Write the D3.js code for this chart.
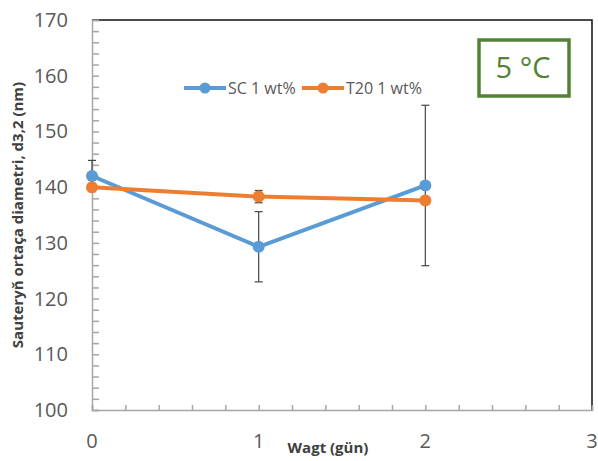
<!DOCTYPE html>
<html>
<head>
<meta charset="utf-8">
<script src="https://cdn.jsdelivr.net/npm/d3@7"></script>
<style>
  body { margin: 0; background: #fff; }
  text { font-family: "Open Sans", "Liberation Sans", sans-serif; }
</style>
</head>
<body>
<div id="chart"></div>
<script>
const days = [0, 1, 2];
const scValues = [142.0, 129.3, 140.3];
const scErrors = [2.8, 6.3, 14.4];
const t20Values = [140.0, 138.3, 137.6];
const t20Errors = [0, 1.1, 0];
const seriesNames = ["SC 1 wt%", "T20 1 wt%"];
const seriesColors = ["#5B9BD5", "#ED7D31"];
const yTicks = [100, 110, 120, 130, 140, 150, 160, 170];
const xTicks = [0, 1, 2, 3];

const width = 598, height = 461;
const marginLeft = 92, marginRight = 6, marginTop = 20, marginBottom = 51;

const x = d3.scaleLinear([0, 3], [marginLeft, width - marginRight]);
const y = d3.scaleLinear([100, 170], [height - marginBottom, marginTop]);

const svg = d3.select("#chart").append("svg")
    .attr("width", width)
    .attr("height", height)
    .attr("viewBox", [0, 0, width, height]);

// frame (top and right in black)
svg.append("path")
    .attr("d", `M${x(0)},${y(170)}H${x(3)}V${y(100)}`)
    .attr("fill", "none")
    .attr("stroke", "#111")
    .attr("stroke-width", 1.5);

// y axis with minor ticks inside
svg.append("g")
    .attr("transform", `translate(${marginLeft},0)`)
    .call(d3.axisRight(y).tickValues(d3.range(100, 170.1, 2)).tickSize(7).tickFormat(""))
    .call(g => g.selectAll("line, path").attr("stroke", "#a6a6a6").attr("stroke-width", 1.5));

svg.append("g")
    .selectAll("text")
    .data(yTicks)
    .join("text")
      .attr("x", 68)
      .attr("y", d => y(d))
      .attr("dy", "0.35em")
      .attr("text-anchor", "end")
      .attr("font-size", 20)
      .attr("fill", "#595959")
      .text(d => d);

// x axis with minor ticks upward
svg.append("g")
    .attr("transform", `translate(0,${height - marginBottom})`)
    .call(d3.axisTop(x).tickValues(d3.range(0, 3.01, 0.2)).tickSize(5).tickFormat(""))
    .call(g => g.selectAll("line, path").attr("stroke", "#a6a6a6").attr("stroke-width", 1.5));

svg.append("g")
    .selectAll("text")
    .data(xTicks)
    .join("text")
      .attr("x", d => x(d))
      .attr("y", 448)
      .attr("text-anchor", "middle")
      .attr("font-size", 20)
      .attr("fill", "#595959")
      .text(d => d);

// axis titles
svg.append("text")
    .attr("transform", `translate(23,${215}) rotate(-90)`)
    .attr("text-anchor", "middle")
    .attr("font-size", 15)
    .attr("font-weight", "bold")
    .attr("fill", "#404040")
    .text("Sauteryň ortaça diametri, d3,2 (nm)");

svg.append("text")
    .attr("x", 328)
    .attr("y", 453)
    .attr("text-anchor", "middle")
    .attr("font-size", 15)
    .attr("font-weight", "bold")
    .attr("fill", "#404040")
    .text("Wagt (gün)");

const series = [
  {name: seriesNames[0], color: seriesColors[0], values: scValues, errors: scErrors},
  {name: seriesNames[1], color: seriesColors[1], values: t20Values, errors: t20Errors}
];

const line = d3.line().x((d, i) => x(days[i])).y(d => y(d));

// error bars
series.forEach(s => {
  const g = svg.append("g").attr("stroke", "#444").attr("stroke-width", 1.2);
  days.forEach((d, i) => {
    const e = s.errors[i];
    if (!e) return;
    const cx = x(d), y0 = y(s.values[i] - e), y1 = y(s.values[i] + e);
    g.append("line").attr("x1", cx).attr("x2", cx).attr("y1", y0).attr("y2", y1);
    g.append("line").attr("x1", cx - 4).attr("x2", cx + 4).attr("y1", y0).attr("y2", y0);
    g.append("line").attr("x1", cx - 4).attr("x2", cx + 4).attr("y1", y1).attr("y2", y1);
  });
});

series.forEach(s => {
  svg.append("path")
      .attr("d", line(s.values))
      .attr("fill", "none")
      .attr("stroke", s.color)
      .attr("stroke-width", 4);
  svg.append("g")
    .selectAll("circle")
    .data(s.values)
    .join("circle")
      .attr("cx", (d, i) => x(days[i]))
      .attr("cy", d => y(d))
      .attr("r", 6)
      .attr("fill", s.color);
});

// legend
const legend = svg.append("g").attr("transform", "translate(184,88)");
const legendX = [0, 118];
series.forEach((s, i) => {
  const g = legend.append("g").attr("transform", `translate(${legendX[i]},0)`);
  g.append("line").attr("x1", 0).attr("x2", 42).attr("stroke", s.color).attr("stroke-width", 4);
  g.append("circle").attr("cx", 21).attr("r", 5.5).attr("fill", s.color);
  g.append("text")
      .attr("x", 44)
      .attr("dy", "0.35em")
      .attr("font-size", 16)
      .attr("fill", "#595959")
      .text(s.name);
});

// temperature box
svg.append("rect")
    .attr("x", 479).attr("y", 40)
    .attr("width", 90).attr("height", 56)
    .attr("fill", "#fff")
    .attr("stroke", "#548235")
    .attr("stroke-width", 3.5);
svg.append("text")
    .attr("x", 523).attr("y", 68)
    .attr("dy", "0.35em")
    .attr("text-anchor", "middle")
    .attr("font-size", 29)
    .attr("fill", "#548235")
    .text("5 °C");
</script>
</body>
</html>
